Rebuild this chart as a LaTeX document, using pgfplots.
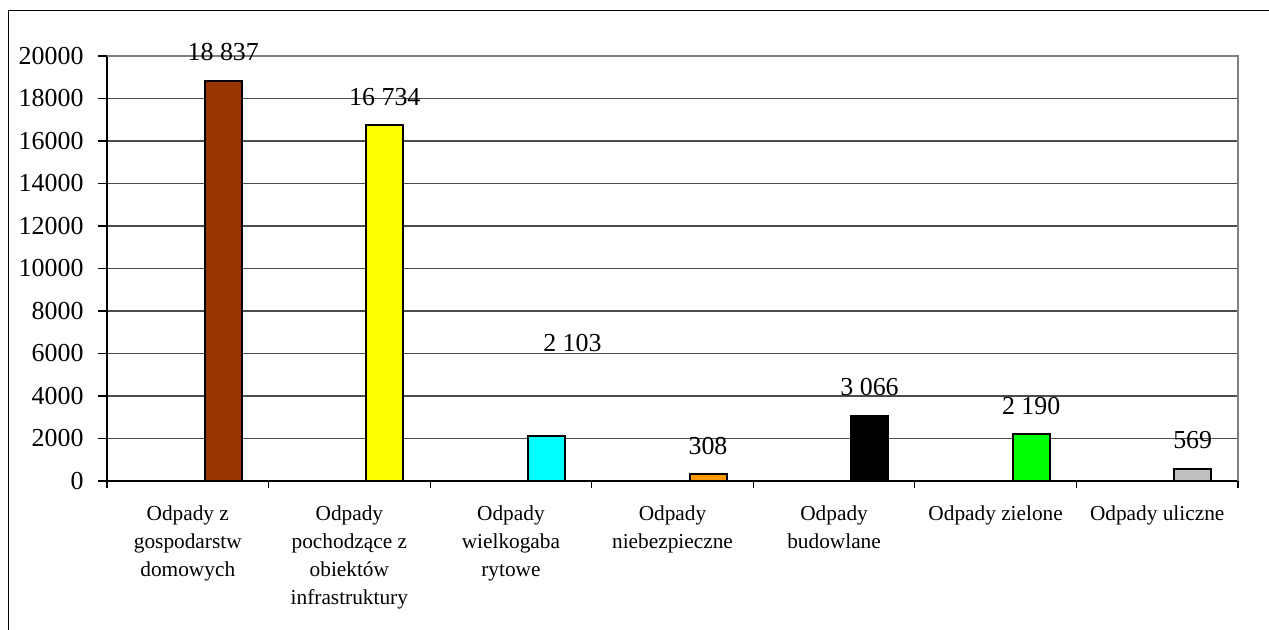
\documentclass[border=0pt]{standalone}
\usepackage{pgfplots}
\pgfplotsset{compat=1.18}
\usepackage{fontspec}
\setmainfont{Liberation Serif}

\definecolor{cBrown}{HTML}{993300}
\definecolor{cYellow}{HTML}{FFFF00}
\definecolor{cCyan}{HTML}{00FFFF}
\definecolor{cOrange}{HTML}{FF9900}
\definecolor{cGreen}{HTML}{00FF00}
\definecolor{cGray}{HTML}{C0C0C0}

\pgfplotsset{
  wastebar/.style={
    ybar, bar width=18.5bp, bar shift=17.75bp,
    draw=black, line width=1bp, fill=#1,
    nodes near coords={\pgfmathprintnumber[fixed,precision=0,1000 sep={\ }]{\pgfplotspointmeta}},
    every node near coord/.append style={anchor=base, yshift=10bp, xshift=17.75bp, inner sep=0pt,
      font=\fontsize{13}{15.6}\selectfont, text=black},
  },
}

\begin{document}
\begin{tikzpicture}
\useasboundingbox (-53.5bp,-74.5bp) rectangle (581bp,240.5bp);
% outer frame of the chart area
\draw[line width=0.8bp, black] (-49.25bp,-74.5bp) -- (-49.25bp,235.25bp) -- (581bp,235.25bp);
\begin{axis}[
  at={(0,0)}, anchor=south west,
  scale only axis, width=565.5bp, height=212.5bp,
  xmin=-0.5, xmax=6.5, ymin=0, ymax=20000,
  axis lines*=left,
  axis line style={black, line width=0.6bp},
  /pgf/number format/assume math mode=true,
  ytick={0,2000,...,20000},
  scaled y ticks=false,
  yticklabel style={/pgf/number format/1000 sep={}, font=\fontsize{13}{15.6}\selectfont, xshift=-4bp},
  ymajorgrids,
  major grid style={black!70, line width=0.6bp},
  xtick={-0.5,0.5,...,6.5},
  x tick label as interval,
  xticklabels={{Odpady z\\gospodarstw\\domowych},
               {Odpady\\pochodzące z\\obiektów\\infrastruktury},
               {Odpady\\wielkogaba\\rytowe},
               {Odpady\\niebezpieczne},
               {Odpady\\budowlane},
               {Odpady zielone},
               {Odpady uliczne}},
  xticklabel style={align=center, font=\fontsize{10.7}{14}\selectfont, yshift=-4.5bp},
  tick align=outside,
  x tick style={black, line width=0.6bp},
  y tick style={black, line width=0.6bp},
  xtick style={/pgfplots/major tick length=3.5bp},
  ytick style={/pgfplots/major tick length=4.5bp},
  clip=false,
]
\addplot[wastebar=cBrown]  coordinates {(0,18837)};
\addplot[wastebar=cYellow] coordinates {(1,16734)};
\addplot[wastebar=cCyan, every node near coord/.append style={yshift=32.25bp, xshift=13bp}] coordinates {(2,2103)};
\addplot[wastebar=cOrange] coordinates {(3,308)};
\addplot[wastebar=black]   coordinates {(4,3066)};
\addplot[wastebar=cGreen]  coordinates {(5,2190)};
\addplot[wastebar=cGray]   coordinates {(6,569)};
% plot-area border on the top and right
\draw[black!50, line width=1bp] (rel axis cs:0,1) -- (rel axis cs:1,1) -- (rel axis cs:1,0);
\end{axis}
\end{tikzpicture}
\end{document}
